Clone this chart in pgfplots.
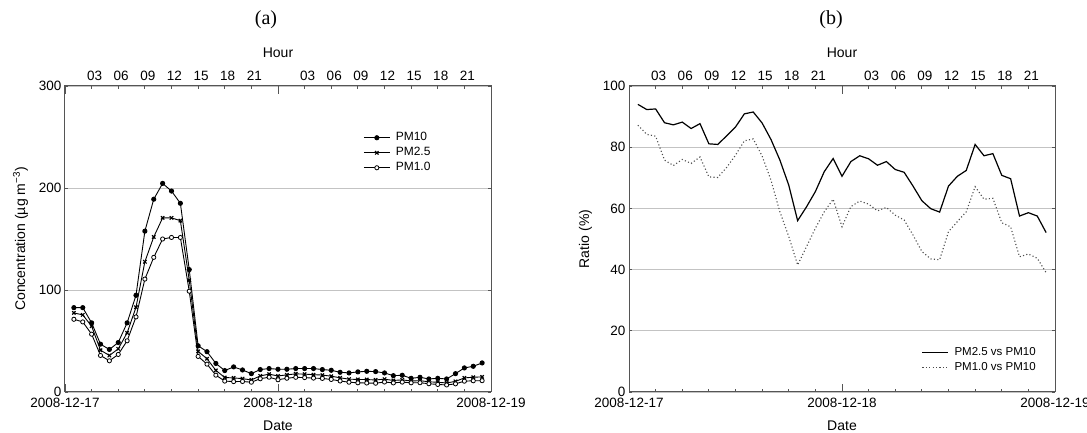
\documentclass[border=0pt]{standalone}
\usepackage{fontspec}
\setmainfont{Liberation Sans}
\newfontfamily\titlefont{Liberation Serif}
\usepackage{pgfplots}
\usepackage{pgfplotstable}
\pgfplotsset{compat=1.18}
\definecolor{axgray}{RGB}{85,85,85}
\definecolor{gridgray}{RGB}{195,195,195}

% hourly concentrations, hour counted from 2008-12-17 00:00
\pgfplotstableread{
h pm10 pm25 pm1
1 82.7 77.5 71.3
2 82.7 75.6 68.7
3 67.8 64.5 56.7
4 46.9 41.0 35.8
5 41.7 35.8 30.6
6 48.5 42.3 36.8
7 67.8 58.0 50.2
8 94.8 83.0 73.6
9 157.7 127.7 110.7
10 189.0 152.0 132.0
11 204.5 170.7 150.0
12 197.0 170.7 151.5
13 185.0 168.0 151.5
14 120.0 109.6 98.8
15 45.3 39.8 34.9
16 39.5 32.6 27.3
17 28.0 21.2 16.5
18 21.0 14.2 10.7
19 24.6 13.8 10.2
20 21.6 13.1 10.3
21 18.0 11.8 9.6
22 22.0 15.8 13.0
23 23.0 17.5 14.5
24 22.3 15.7 12.0
25 22.3 16.8 13.5
26 23.0 17.8 14.4
27 23.0 17.5 14.1
28 23.0 17.0 13.6
29 22.0 16.6 13.3
30 21.3 15.5 12.3
31 19.3 13.9 10.8
32 18.7 12.6 9.6
33 19.7 12.3 9.0
34 20.3 12.2 8.8
35 20.0 11.8 8.6
36 18.7 12.6 9.8
37 16.0 11.3 8.9
38 16.4 11.9 9.7
39 13.4 10.8 9.0
40 14.4 11.1 9.1
41 12.8 10.0 8.1
42 13.4 9.5 7.4
43 12.8 8.9 6.9
44 18.0 10.4 8.0
45 23.6 13.8 10.6
46 25.2 14.5 11.0
47 28.5 14.8 11.1
}\conc

% ratios in percent
\pgfplotstableread{
h r25 r1
1 94.0 87.2
2 92.3 84.2
3 92.5 83.6
4 88.0 75.8
5 87.3 74.0
6 88.2 76.0
7 86.1 74.7
8 87.7 76.8
9 81.1 70.3
10 80.9 70.1
11 83.7 73.4
12 86.6 77.4
13 90.9 82.1
14 91.5 82.7
15 87.9 77.1
16 82.5 69.2
17 75.8 58.9
18 67.6 50.8
19 56.0 41.5
20 60.5 47.5
21 65.5 53.5
22 72.0 58.9
23 76.3 63.0
24 70.5 54.0
25 75.3 60.6
26 77.2 62.4
27 76.2 61.4
28 74.1 59.2
29 75.3 60.3
30 72.7 57.8
31 71.8 56.2
32 67.3 51.3
33 62.5 45.9
34 59.9 43.5
35 58.8 43.2
36 67.3 52.4
37 70.5 55.7
38 72.4 58.9
39 80.9 67.1
40 77.2 63.0
41 77.9 63.3
42 70.8 55.3
43 69.7 54.0
44 57.5 44.2
45 58.6 45.1
46 57.5 43.7
47 52.1 39.0
}\ratio

\pgfplotsset{
  panel/.style={scale only axis, width=426pt, height=306pt, xmin=0, xmax=48,
    anchor=south west,
    axis line style={axgray, line width=1pt},
    tick style={axgray, line width=0.8pt}, tick align=inside,
    /pgf/number format/assume math mode=true,
    x tick label style={font=\fontsize{13.5}{15}\selectfont, black},
    y tick label style={font=\fontsize{13.5}{15}\selectfont, black},
    label style={font=\fontsize{14}{16}\selectfont}},
  hours/.style={panel, major tick length=3pt,
    xtick={3,6,...,21,27,30,...,45},
    xticklabels={03,06,09,12,15,18,21,03,06,09,12,15,18,21},
    xticklabel pos=top, xtick pos=both, ytick pos=both, yticklabel pos=left,
    x tick label style={xshift=3pt, yshift=1.5pt},
    xlabel=Hour,
    xlabel style={at={(axis description cs:0.5,1)}, anchor=center, yshift=33pt},
    ymajorgrids, grid style={gridgray, line width=0.8pt},
    legend cell align=left,
    legend image code/.code={\draw[mark repeat=2,mark phase=2,##1]
      plot coordinates {(0pt,0pt) (13pt,0pt) (26pt,0pt)};}},
  dates/.style={panel, major tick length=8pt,
    xtick={0,24,48}, xticklabels={2008-12-17,2008-12-18,2008-12-19},
    xticklabel pos=bottom, xtick pos=both, ytick=\empty, ymin=0, ymax=1,
    x tick label style={yshift=-3pt},
    xlabel=Date,
    xlabel style={at={(axis description cs:0.5,0)}, anchor=center, yshift=-34pt}},
}

\begin{document}
\begin{tikzpicture}
\useasboundingbox (0pt,0pt) rectangle (1087pt,433pt);

% (a) concentrations
\begin{axis}[hours, at={(65pt,41pt)}, ymin=0, ymax=300, ytick={0,100,200,300},
  ylabel={Concentration (µg m\textsuperscript{−3})},
  ylabel style={at={(axis description cs:0,0.5)}, anchor=center, yshift=44.5pt},
  legend style={at={(axis description cs:0.70,0.856)}, anchor=north west,
    draw=none, fill=none, inner sep=0pt, row sep=0pt, column sep=4pt,
    nodes={inner sep=1.5pt, text height=9pt, text depth=3pt},
    font=\fontsize{12}{14}\selectfont}]
\addplot[black, line width=0.9pt, mark=*, mark size=2.1pt, mark options={solid, fill=black}]
  table[x=h, y=pm10] {\conc};
\addplot[black, line width=0.9pt, mark=x, mark size=2.4pt, mark options={solid, line width=1.2pt}]
  table[x=h, y=pm25] {\conc};
\addplot[black, line width=0.9pt, mark=*, mark size=2.1pt, mark options={solid, fill=white, line width=0.8pt}]
  table[x=h, y=pm1] {\conc};
\legend{PM10, PM2.5, PM1.0}
\end{axis}
\begin{axis}[dates, at={(65pt,41pt)}]
\end{axis}

% (b) ratios
\begin{axis}[hours, at={(629pt,41pt)}, ymin=0, ymax=100, ytick={0,20,...,100},
  ylabel={Ratio (\%)},
  ylabel style={at={(axis description cs:0,0.5)}, anchor=center, yshift=43.5pt},
  legend style={at={(axis description cs:0.687,0.154)}, anchor=north west,
    draw=none, fill=none, inner sep=0pt, row sep=0pt, column sep=4pt,
    nodes={inner sep=1.5pt, text height=9pt, text depth=3pt},
    font=\fontsize{11.5}{14}\selectfont}]
\addplot[black, line width=1.2pt] table[x=h, y=r25] {\ratio};
\addplot[black!70, line width=1.1pt, dash pattern=on 1.1pt off 2.3pt] table[x=h, y=r1] {\ratio};
\legend{PM2.5 vs PM10, PM1.0 vs PM10}
\end{axis}
\begin{axis}[dates, at={(629pt,41pt)}]
\end{axis}

\node[font=\titlefont\fontsize{20}{22}\selectfont] at (266pt,413.5pt) {(a)};
\node[font=\titlefont\fontsize{20}{22}\selectfont] at (831pt,413.5pt) {(b)};
\end{tikzpicture}
\end{document}
